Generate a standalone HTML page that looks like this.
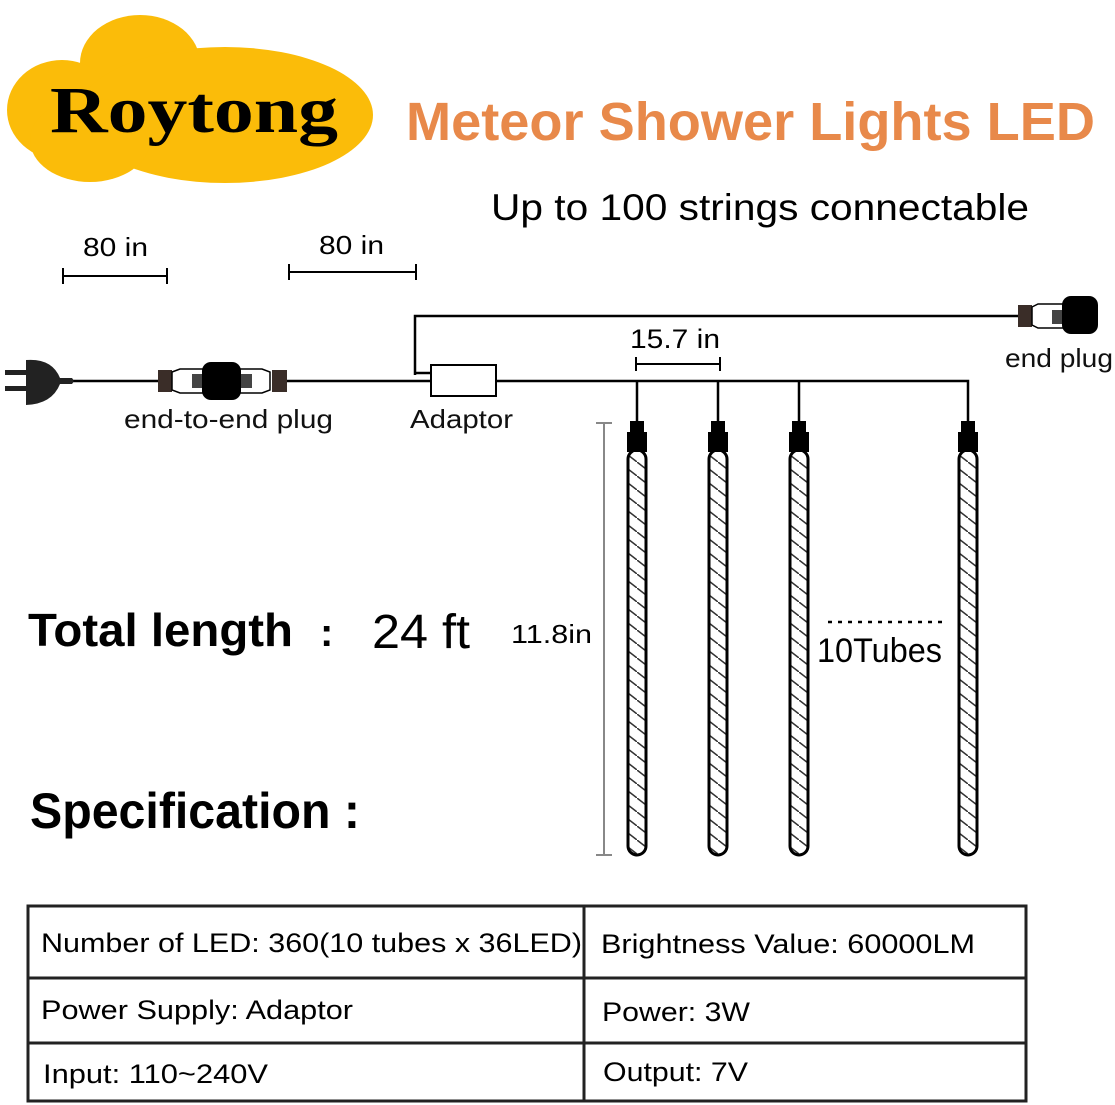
<!DOCTYPE html>
<html><head><meta charset="utf-8"><style>
html,body{margin:0;padding:0;background:#fff;}
svg{display:block;}
</style></head><body>
<svg width="1115" height="1105" viewBox="0 0 1115 1105" xmlns="http://www.w3.org/2000/svg" font-family="Liberation Sans, sans-serif">
<defs>
<pattern id="h" width="18" height="14" patternUnits="userSpaceOnUse">
<line x1="0" y1="0" x2="18" y2="14" stroke="#333" stroke-width="1.5"/>
</pattern>
</defs>
<!-- logo -->
<g fill="#fbbc09">
<ellipse cx="140" cy="63" rx="60" ry="48"/>
<ellipse cx="62" cy="110" rx="55" ry="50"/>
<ellipse cx="225" cy="115" rx="148" ry="68"/>
<ellipse cx="90" cy="140" rx="60" ry="42"/>
</g>
<text x="50" y="132" style="font-family:'Liberation Serif',serif" font-weight="bold" font-size="66" textLength="288" lengthAdjust="spacingAndGlyphs" fill="#000">Roytong</text>
<text x="406" y="140" font-weight="bold" font-size="54" textLength="689" lengthAdjust="spacingAndGlyphs" fill="#e8894a">Meteor Shower Lights LED</text>
<text x="491" y="220" font-size="37" textLength="538" lengthAdjust="spacingAndGlyphs" fill="#000">Up to 100 strings connectable</text>
<!-- dims -->
<g stroke="#000" stroke-width="2" fill="none">
<path d="M63 276H167M63 268V284M167 268V284"/>
<path d="M289 272H416M289 264V280M416 264V280"/>
<path d="M636 364H720M636 357V371M720 357V371"/>
</g>
<text x="83" y="256" font-size="26" textLength="65" lengthAdjust="spacingAndGlyphs" fill="#000">80 in</text>
<text x="319" y="254" font-size="26" textLength="65" lengthAdjust="spacingAndGlyphs" fill="#000">80 in</text>
<text x="630" y="348" font-size="27" textLength="90" lengthAdjust="spacingAndGlyphs" fill="#000">15.7 in</text>
<!-- wires -->
<g stroke="#000" stroke-width="2.5" fill="none">
<path d="M70 381H160M287 381H431"/>
<path d="M415 375V316H1020"/>
<path d="M415 373H431"/>
<path d="M496 381H968V422M637 381V422M718 381V422M799 381V422"/>
</g>
<rect x="431" y="365" width="65" height="31" fill="#fff" stroke="#000" stroke-width="2"/>
<!-- plug -->
<path d="M26 360 Q52 358 60 378 L72 378 Q75 381 72 384 L60 384 Q52 404 26 405 Z" fill="#222"/>
<rect x="5" y="370" width="22" height="5" fill="#222"/><rect x="5" y="386" width="22" height="5" fill="#222"/>
<!-- end-to-end -->
<rect x="158" y="370" width="14" height="22" fill="#3a2d28"/>
<path d="M172 372 L180 369 H203 V393 H180 L172 390Z" fill="#fff" stroke="#000" stroke-width="1.5"/>
<path d="M240 369 H262 L270 372 V390 L262 393 H240Z" fill="#fff" stroke="#000" stroke-width="1.5"/>
<rect x="272" y="370" width="15" height="22" fill="#3a2d28"/>
<rect x="192" y="374" width="12" height="14" fill="#444"/><rect x="240" y="374" width="12" height="14" fill="#444"/>
<rect x="202" y="362" width="39" height="38" rx="9" fill="#000"/>
<text x="124" y="428" font-size="26" textLength="209" lengthAdjust="spacingAndGlyphs" fill="#111">end-to-end plug</text>
<text x="410" y="428" font-size="26" textLength="103" lengthAdjust="spacingAndGlyphs" fill="#111">Adaptor</text>
<!-- end plug -->
<rect x="1018" y="305" width="14" height="22" fill="#3a2d28"/>
<path d="M1032 307 L1038 304 H1064 V328 H1038 L1032 325Z" fill="#fff" stroke="#000" stroke-width="1.5"/>
<rect x="1052" y="310" width="12" height="14" fill="#444"/>
<rect x="1062" y="296" width="36" height="38" rx="9" fill="#000"/>
<text x="1005" y="367" font-size="26" textLength="108" lengthAdjust="spacingAndGlyphs" fill="#111">end plug</text>
<!-- tubes -->
<g>
<g transform="translate(637,0)">
<rect x="-9" y="450" width="18" height="405" rx="9" fill="url(#h)" stroke="#000" stroke-width="3"/>
<rect x="-7" y="421" width="14" height="13" fill="#000"/><rect x="-10" y="432" width="20" height="20" fill="#000"/>
</g>
<g transform="translate(718,0)">
<rect x="-9" y="450" width="18" height="405" rx="9" fill="url(#h)" stroke="#000" stroke-width="3"/>
<rect x="-7" y="421" width="14" height="13" fill="#000"/><rect x="-10" y="432" width="20" height="20" fill="#000"/>
</g>
<g transform="translate(799,0)">
<rect x="-9" y="450" width="18" height="405" rx="9" fill="url(#h)" stroke="#000" stroke-width="3"/>
<rect x="-7" y="421" width="14" height="13" fill="#000"/><rect x="-10" y="432" width="20" height="20" fill="#000"/>
</g>
<g transform="translate(968,0)">
<rect x="-9" y="450" width="18" height="405" rx="9" fill="url(#h)" stroke="#000" stroke-width="3"/>
<rect x="-7" y="421" width="14" height="13" fill="#000"/><rect x="-10" y="432" width="20" height="20" fill="#000"/>
</g>
</g>
<path d="M604 423V855M596 423H612M596 855H612" stroke="#888" stroke-width="2" fill="none"/>
<text x="511" y="643" font-size="26" textLength="81" lengthAdjust="spacingAndGlyphs" fill="#000">11.8in</text>
<path d="M828 622H942" stroke="#000" stroke-width="2.5" stroke-dasharray="4 6"/>
<text x="817" y="662" font-size="34" textLength="125" lengthAdjust="spacingAndGlyphs" fill="#000">10Tubes</text>
<text x="28" y="646" font-weight="bold" font-size="46" textLength="265" lengthAdjust="spacingAndGlyphs" fill="#000">Total length</text>
<text x="320" y="646" font-weight="bold" font-size="40" fill="#000">:</text>
<text x="372" y="648" font-size="48" textLength="98" lengthAdjust="spacingAndGlyphs" fill="#000">24 ft</text>
<text x="30" y="828" font-weight="bold" font-size="50" textLength="330" lengthAdjust="spacingAndGlyphs" fill="#000">Specification :</text>
<!-- table -->
<g stroke="#222" stroke-width="3" fill="none">
<rect x="28" y="906" width="998" height="195"/>
<path d="M28 978H1026M28 1043H1026M584 906V1101"/>
</g>
<g font-size="27" fill="#000">
<text x="41" y="952" textLength="541" lengthAdjust="spacingAndGlyphs">Number of LED: 360(10 tubes x 36LED)</text>
<text x="601" y="953" textLength="374" lengthAdjust="spacingAndGlyphs">Brightness Value: 60000LM</text>
<text x="41" y="1019" textLength="312" lengthAdjust="spacingAndGlyphs">Power Supply: Adaptor</text>
<text x="602" y="1021" textLength="148" lengthAdjust="spacingAndGlyphs">Power: 3W</text>
<text x="43" y="1083" textLength="225" lengthAdjust="spacingAndGlyphs">Input: 110~240V</text>
<text x="603" y="1081" textLength="145" lengthAdjust="spacingAndGlyphs">Output: 7V</text>
</g>
</svg>
</body></html>
